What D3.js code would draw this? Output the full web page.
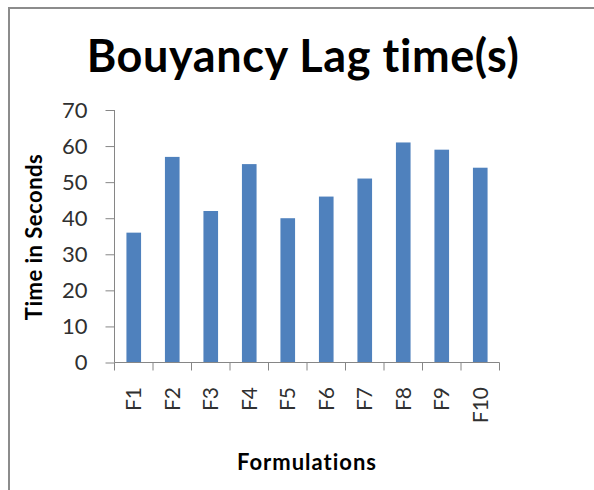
<!DOCTYPE html>
<html>
<head>
<meta charset="utf-8">
<script src="https://cdn.jsdelivr.net/npm/d3@7"></script>
<style>
  body { margin: 0; background: #fff; }
  svg { display: block; }
  text { font-variant-ligatures: none; }
</style>
</head>
<body>
<div id="chart"></div>
<script>
const formulations = ['F1', 'F2', 'F3', 'F4', 'F5', 'F6', 'F7', 'F8', 'F9', 'F10'];
const lagTimes = [36, 57, 42, 55, 40, 46, 51, 61, 59, 54];
const yTicks = [0, 10, 20, 30, 40, 50, 60, 70];

const w = 594;
const h = 490;
const font = 'Lato, "Open Sans", sans-serif';

const svg = d3.select('#chart')
    .append('svg')
    .attr('width', w)
    .attr('height', h);

// frame of the chart area
svg.append('rect')
    .attr('x', 9)
    .attr('y', 8)
    .attr('width', w + 10)
    .attr('height', h + 10)
    .attr('fill', 'none')
    .attr('stroke', '#8c8c8c')
    .attr('stroke-width', 2);

const data = formulations.map((f, i) => ({ name: f, value: lagTimes[i] }));

// Scales
const xScale = d3.scaleBand()
    .domain(formulations)
    .range([114.5, 499.5])
    .paddingInner(0.62)
    .paddingOuter(0.31);

const yScale = d3.scaleLinear()
    .domain([0, 70])
    .range([362.5, 110]);

// Bars
svg.selectAll('rect.bar')
    .data(data)
    .enter()
    .append('rect')
    .attr('class', 'bar')
    .attr('x', d => xScale(d.name))
    .attr('y', d => yScale(d.value))
    .attr('width', xScale.bandwidth())
    .attr('height', d => yScale(0) - yScale(d.value))
    .attr('fill', '#4f81bd');

// Axes
const yAxis = d3.axisLeft(yScale)
    .tickValues(yTicks)
    .tickSize(9)
    .tickPadding(18)
    .tickFormat(d3.format('d'));

const yg = svg.append('g')
    .attr('transform', 'translate(114.5, 0)')
    .call(yAxis);

yg.select('.domain').attr('stroke', '#868686').attr('d', 'M0,110V362.5');
yg.selectAll('.tick line').attr('stroke', '#868686');
yg.selectAll('.tick text')
    .attr('fill', '#303030')
    .style('font-family', font)
    .style('font-size', '22px');

// x axis: ticks at band boundaries
const step = xScale.step();
const xStart = xScale.range()[0];
const boundaries = d3.range(formulations.length + 1).map(i => xStart + i * step);

const xg = svg.append('g');
xg.append('line')
    .attr('x1', xStart)
    .attr('x2', xScale.range()[1])
    .attr('y1', yScale(0))
    .attr('y2', yScale(0))
    .attr('stroke', '#868686');
xg.selectAll('line.tick')
    .data(boundaries)
    .enter()
    .append('line')
    .attr('class', 'tick')
    .attr('x1', d => d)
    .attr('x2', d => d)
    .attr('y1', yScale(0))
    .attr('y2', yScale(0) + 8)
    .attr('stroke', '#868686');

xg.selectAll('text')
    .data(formulations)
    .enter()
    .append('text')
    .attr('transform', d => `translate(${xScale(d) + xScale.bandwidth() / 2}, 387) rotate(-90)`)
    .attr('text-anchor', 'end')
    .attr('dy', '0.35em')
    .attr('fill', '#303030')
    .style('font-family', font)
    .style('font-size', '21px')
    .text(d => d);

// Title
svg.append('text')
    .attr('x', 303)
    .attr('y', 72)
    .attr('text-anchor', 'middle')
    .style('font-family', font)
    .style('font-weight', 'bold')
    .style('font-size', '45px')
    .style('letter-spacing', '0.6px')
    .attr('fill', '#000')
    .text('Bouyancy Lag time(s)');

// Axis titles
svg.append('text')
    .attr('transform', 'translate(34, 237) rotate(-90)')
    .attr('dy', '0.35em')
    .attr('text-anchor', 'middle')
    .style('font-family', font)
    .style('font-weight', 'bold')
    .style('font-size', '22px')
    .style('letter-spacing', '0.5px')
    .attr('fill', '#000')
    .text('Time in Seconds');

svg.append('text')
    .attr('x', 307)
    .attr('y', 470)
    .attr('text-anchor', 'middle')
    .style('font-family', font)
    .style('font-weight', 'bold')
    .style('font-size', '22px')
    .style('letter-spacing', '1px')
    .attr('fill', '#000')
    .text('Formulations');
</script>
</body>
</html>
